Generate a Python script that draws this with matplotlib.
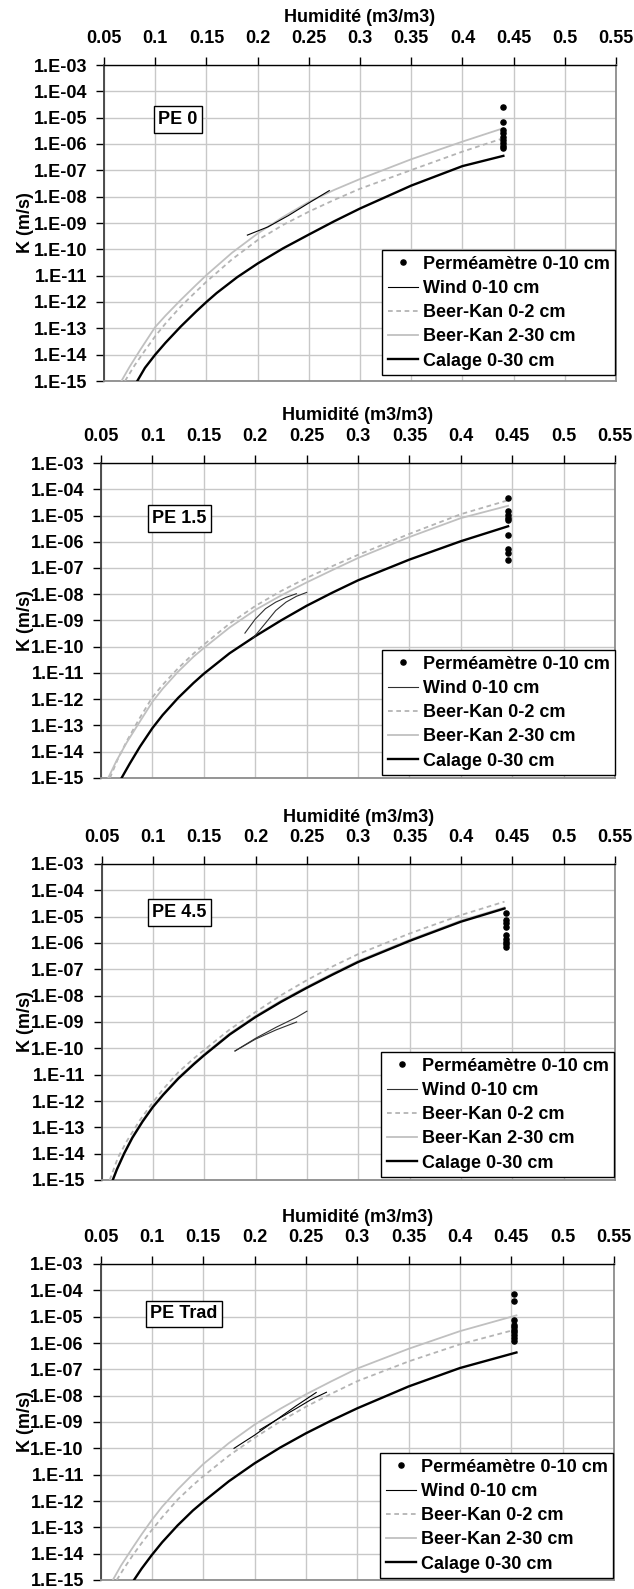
import matplotlib
matplotlib.use("Agg")
import matplotlib.pyplot as plt
from matplotlib.ticker import FixedLocator, FixedFormatter, NullLocator

plt.rcParams['font.family'] = ['Liberation Sans', 'DejaVu Sans']
plt.rcParams['font.weight'] = 'bold'
plt.rcParams['font.size'] = 13

# ---------------- data ----------------
x_ticks = [0.05, 0.1, 0.15, 0.2, 0.25, 0.3, 0.35, 0.4, 0.45, 0.5, 0.55]
x_tick_labels = ['0.05', '0.1', '0.15', '0.2', '0.25', '0.3', '0.35', '0.4', '0.45', '0.5', '0.55']
y_tick_exponents = [-15, -14, -13, -12, -11, -10, -9, -8, -7, -6, -5, -4, -3]
y_tick_labels = ['1.E-15', '1.E-14', '1.E-13', '1.E-12', '1.E-11', '1.E-10', '1.E-09',
                 '1.E-08', '1.E-07', '1.E-06', '1.E-05', '1.E-04', '1.E-03']
x_title = 'Humidité (m3/m3)'
y_title = 'K (m/s)'
panel_names = ['PE 0', 'PE 1.5', 'PE 4.5', 'PE Trad']
legend_labels = ['Perméamètre 0-10 cm', 'Wind 0-10 cm', 'Beer-Kan 0-2 cm',
                 'Beer-Kan 2-30 cm', 'Calage 0-30 cm']

# PE 0  (theta, log10 K)
pe0_perm_theta = 0.44
pe0_perm_logk = [-4.58, -5.15, -5.47, -5.59, -5.72, -5.85, -5.97, -6.08, -6.16]
pe0_wind_theta = [[0.19, 0.21, 0.23, 0.25, 0.27]]
pe0_wind_logk = [[-9.46, -9.15, -8.72, -8.24, -7.77]]
pe0_bk02_theta = [0.0705, 0.08, 0.09, 0.1, 0.11, 0.125, 0.14, 0.15, 0.175, 0.2, 0.225, 0.25, 0.275, 0.3, 0.35, 0.4, 0.44]
pe0_bk02_logk = [-15.0, -14.4, -13.84, -13.3, -12.82, -12.17, -11.6, -11.23, -10.38, -9.65, -9.07, -8.57, -8.12, -7.70, -6.99, -6.29, -5.78]
pe0_bk230_theta = [0.067, 0.075, 0.085, 0.1, 0.11, 0.125, 0.14, 0.15, 0.175, 0.2, 0.225, 0.25, 0.275, 0.3, 0.35, 0.4, 0.44]
pe0_bk230_logk = [-15.0, -14.46, -13.84, -12.95, -12.52, -11.92, -11.35, -10.98, -10.13, -9.4, -8.77, -8.2, -7.74, -7.33, -6.58, -5.91, -5.40]
pe0_cal_theta = [0.0825, 0.09, 0.1, 0.11, 0.125, 0.14, 0.15, 0.16, 0.18, 0.2, 0.225, 0.25, 0.275, 0.3, 0.35, 0.4, 0.44]
pe0_cal_logk = [-15.0, -14.5, -14.0, -13.55, -12.93, -12.36, -12.0, -11.66, -11.06, -10.54, -9.96, -9.44, -8.93, -8.45, -7.58, -6.84, -6.45]

# PE 1.5
pe15_perm_theta = 0.446
pe15_perm_logk = [-4.33, -4.84, -4.97, -5.10, -5.16, -5.73, -6.28, -6.43, -6.71]
pe15_wind_theta = [[0.19, 0.20, 0.21, 0.22, 0.23, 0.24],
                   [0.198, 0.21, 0.22, 0.23, 0.24, 0.25]]
pe15_wind_logk = [[-9.48, -8.95, -8.55, -8.30, -8.12, -7.98],
                  [-9.67, -9.10, -8.62, -8.30, -8.08, -7.93]]
pe15_bk02_theta = [0.0587, 0.066, 0.075, 0.087, 0.1, 0.11, 0.125, 0.14, 0.15, 0.175, 0.2, 0.225, 0.25, 0.275, 0.3, 0.35, 0.4, 0.446]
pe15_bk02_logk = [-15.0, -14.31, -13.6, -12.76, -11.92, -11.45, -10.82, -10.26, -9.92, -9.12, -8.45, -7.88, -7.38, -6.93, -6.5, -5.7, -4.95, -4.42]
pe15_bk230_theta = [0.057, 0.065, 0.075, 0.087, 0.1, 0.11, 0.125, 0.14, 0.15, 0.175, 0.2, 0.225, 0.25, 0.275, 0.3, 0.35, 0.4, 0.446]
pe15_bk230_logk = [-15.0, -14.35, -13.65, -12.9, -12.1, -11.6, -10.95, -10.38, -10.05, -9.27, -8.6, -8.05, -7.55, -7.08, -6.62, -5.82, -5.10, -4.63]
pe15_cal_theta = [0.07, 0.078, 0.088, 0.1, 0.11, 0.125, 0.14, 0.15, 0.175, 0.2, 0.225, 0.25, 0.275, 0.3, 0.35, 0.4, 0.446]
pe15_cal_logk = [-15.0, -14.45, -13.8, -13.1, -12.6, -11.95, -11.38, -11.03, -10.25, -9.6, -9.0, -8.44, -7.94, -7.47, -6.68, -5.98, -5.41]

# PE 4.5
pe45_perm_theta = 0.4434
pe45_perm_logk = [-4.87, -5.13, -5.23, -5.41, -5.70, -5.83, -5.95, -6.04, -6.14]
pe45_wind_theta = [[0.18, 0.2, 0.22, 0.24, 0.25],
                   [0.18, 0.2, 0.22, 0.24]]
pe45_wind_logk = [[-10.1, -9.62, -9.2, -8.82, -8.59],
                  [-10.1, -9.65, -9.3, -9.0]]
pe45_bk02_theta = [0.058, 0.066, 0.075, 0.087, 0.1, 0.11, 0.125, 0.14, 0.15, 0.175, 0.2, 0.225, 0.25, 0.275, 0.3, 0.35, 0.4, 0.4424]
pe45_bk02_logk = [-15.0, -14.15, -13.5, -12.75, -12.05, -11.55, -10.9, -10.38, -10.06, -9.28, -8.62, -7.98, -7.41, -6.89, -6.42, -5.64, -4.94, -4.43]
pe45_bk230_theta = [0.0605, 0.065, 0.072, 0.08, 0.09, 0.1, 0.11, 0.125, 0.14, 0.15, 0.175, 0.2, 0.225, 0.25, 0.275, 0.3, 0.35, 0.4, 0.4424]
pe45_bk230_logk = [-15.0, -14.56, -13.96, -13.36, -12.74, -12.19, -11.73, -11.1, -10.56, -10.22, -9.43, -8.77, -8.19, -7.66, -7.16, -6.68, -5.88, -5.15, -4.65]
pe45_cal_theta = [0.061, 0.065, 0.072, 0.08, 0.09, 0.1, 0.11, 0.125, 0.14, 0.15, 0.175, 0.2, 0.225, 0.25, 0.275, 0.3, 0.35, 0.4, 0.4424]
pe45_cal_logk = [-15.0, -14.6, -14.0, -13.4, -12.78, -12.23, -11.77, -11.14, -10.6, -10.26, -9.47, -8.81, -8.23, -7.70, -7.2, -6.72, -5.92, -5.19, -4.69]

# PE Trad
petr_perm_theta = 0.453
petr_perm_logk = [-4.14, -4.42, -5.12, -5.31, -5.40, -5.50, -5.60, -5.70, -5.81, -5.94]
petr_wind_theta = [[0.18, 0.20, 0.22, 0.24, 0.26],
                   [0.205, 0.22, 0.24, 0.255, 0.27]]
petr_wind_logk = [[-10.0, -9.5, -8.95, -8.4, -7.88],
                  [-9.3, -8.95, -8.5, -8.15, -7.87]]
petr_bk02_theta = [0.0658, 0.073, 0.082, 0.09, 0.1, 0.11, 0.125, 0.14, 0.15, 0.175, 0.2, 0.225, 0.25, 0.275, 0.3, 0.35, 0.4, 0.455]
petr_bk02_logk = [-15.0, -14.55, -14.03, -13.6, -13.1, -12.62, -11.95, -11.4, -11.06, -10.28, -9.6, -8.98, -8.42, -7.92, -7.45, -6.7, -6.05, -5.48]
petr_bk230_theta = [0.062, 0.07, 0.08, 0.09, 0.1, 0.11, 0.125, 0.14, 0.15, 0.175, 0.2, 0.225, 0.25, 0.275, 0.3, 0.35, 0.4, 0.455]
petr_bk230_logk = [-15.0, -14.45, -13.85, -13.27, -12.72, -12.22, -11.57, -10.98, -10.6, -9.8, -9.1, -8.5, -7.95, -7.45, -6.97, -6.22, -5.55, -4.95]
petr_cal_theta = [0.0826, 0.09, 0.1, 0.11, 0.125, 0.14, 0.15, 0.175, 0.2, 0.225, 0.25, 0.275, 0.3, 0.35, 0.4, 0.455]
petr_cal_logk = [-15.0, -14.57, -14.05, -13.57, -12.93, -12.36, -12.03, -11.25, -10.57, -9.97, -9.43, -8.94, -8.48, -7.65, -6.95, -6.36]

panels_data = [
    (pe0_perm_theta, pe0_perm_logk, pe0_wind_theta, pe0_wind_logk, pe0_bk02_theta, pe0_bk02_logk,
     pe0_bk230_theta, pe0_bk230_logk, pe0_cal_theta, pe0_cal_logk),
    (pe15_perm_theta, pe15_perm_logk, pe15_wind_theta, pe15_wind_logk, pe15_bk02_theta, pe15_bk02_logk,
     pe15_bk230_theta, pe15_bk230_logk, pe15_cal_theta, pe15_cal_logk),
    (pe45_perm_theta, pe45_perm_logk, pe45_wind_theta, pe45_wind_logk, pe45_bk02_theta, pe45_bk02_logk,
     pe45_bk230_theta, pe45_bk230_logk, pe45_cal_theta, pe45_cal_logk),
    (petr_perm_theta, petr_perm_logk, petr_wind_theta, petr_wind_logk, petr_bk02_theta, petr_bk02_logk,
     petr_bk230_theta, petr_bk230_logk, petr_cal_theta, petr_cal_logk),
]

# ---------------- layout (pixels) ----------------
W, H = 634, 1589
axes_px = [(104, 65, 616, 381), (101, 463, 615, 778), (101.5, 864, 615, 1180), (100.5, 1264, 614, 1580)]
label_box_px = [(154, 119.5), (148, 518.5), (148, 912.5), (146, 1314)]
legend_corner_px = [(615, 375), (615, 775), (614, 1177), (613, 1578)]

def fx(px):
    return px / W

def fy(py):
    return 1 - py / H

fig = plt.figure(figsize=(W / 100, H / 100), dpi=100)

for i, (name, data) in enumerate(zip(panel_names, panels_data)):
    (perm_t, perm_k, wind_t, wind_k, b02_t, b02_k, b230_t, b230_k, cal_t, cal_k) = data
    l, t, r, b = axes_px[i]
    ax = fig.add_axes([fx(l), fy(b), (r - l) / W, (b - t) / H])
    ax.set_yscale('log')
    ax.set_xlim(0.05, 0.55)
    ax.set_ylim(1e-15, 1e-3)

    h_perm, = ax.plot([perm_t] * len(perm_k), [10.0 ** v for v in perm_k], linestyle='none',
                      marker='o', ms=3.7, color='black', zorder=6)
    h_b02, = ax.plot(b02_t, [10.0 ** v for v in b02_k], color='#b4b4b4', lw=1.3,
                     linestyle=(0, (2.6, 2.0)), zorder=3)
    h_b230, = ax.plot(b230_t, [10.0 ** v for v in b230_k], color='#c0c0c0', lw=1.3, zorder=3)
    h_cal, = ax.plot(cal_t, [10.0 ** v for v in cal_k], color='black', lw=1.7, zorder=4)
    wind_color = 'black' if i in (0, 3) else '#303030'
    h_wind = None
    for wt, wk in zip(wind_t, wind_k):
        hw, = ax.plot(wt, [10.0 ** v for v in wk], color=wind_color, lw=0.8, zorder=5)
        if h_wind is None:
            h_wind = hw

    # axes styling
    ax.xaxis.tick_top()
    ax.xaxis.set_major_locator(FixedLocator(x_ticks))
    ax.xaxis.set_major_formatter(FixedFormatter(x_tick_labels))
    ax.xaxis.set_minor_locator(NullLocator())
    ax.yaxis.set_major_locator(FixedLocator([10.0 ** e for e in y_tick_exponents]))
    ax.yaxis.set_major_formatter(FixedFormatter(y_tick_labels))
    ax.yaxis.set_minor_locator(NullLocator())
    ax.tick_params(axis='x', direction='out', length=6, width=1, pad=7, top=True, bottom=False,
                   labeltop=True, labelbottom=False, labelsize=13)
    ax.tick_params(axis='y', direction='out', length=6, width=1, pad=6, labelsize=13)
    for lab in ax.get_xticklabels() + ax.get_yticklabels():
        lab.set_fontweight('bold')
    ax.grid(True, color='#c8c8c8', lw=1.0)
    ax.set_axisbelow(True)
    ax.spines['top'].set_color('black')
    ax.spines['top'].set_linewidth(1.0)
    ax.spines['left'].set_color('#404040')
    ax.spines['left'].set_linewidth(1.3)
    for s in ('right', 'bottom'):
        ax.spines[s].set_color('#8c8c8c')
        ax.spines[s].set_linewidth(1.3)

    # titles
    fig.text(fx((l + r) / 2), fy(t - 47), x_title, ha='center', va='center',
             fontsize=13, fontweight='bold')
    fig.text(fx(25), fy((t + b) / 2), y_title, rotation=90, ha='center', va='center',
             fontsize=13, fontweight='bold')

    # panel label box
    bx, by = label_box_px[i]
    fig.text(fx(bx + 4.5), fy(by), name, ha='left', va='center', fontsize=13, fontweight='bold',
             bbox=dict(boxstyle='square,pad=0.25', fc='white', ec='black', lw=1.0), zorder=10)

    # legend
    lx, ly = legend_corner_px[i]
    leg = ax.legend([h_perm, h_wind, h_b02, h_b230, h_cal], legend_labels,
                    loc='lower right', bbox_to_anchor=(fx(lx), fy(ly)),
                    bbox_transform=fig.transFigure, borderaxespad=0, fancybox=False,
                    framealpha=1, edgecolor='black', numpoints=1,
                    handlelength=1.7, handletextpad=0.25, labelspacing=0.4, borderpad=0.3,
                    prop={'weight': 'bold', 'size': 13})
    leg.get_frame().set_linewidth(1.0)
    leg.set_zorder(20)

fig.savefig('out.png', dpi=100)
